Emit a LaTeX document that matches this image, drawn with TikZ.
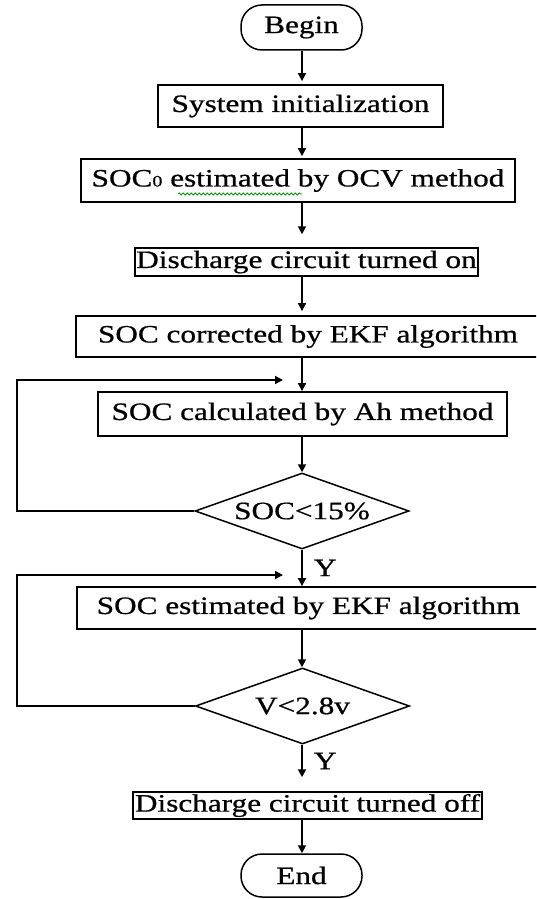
\documentclass[tikz,border=0pt]{standalone}
\usepackage{fontspec}
\setmainfont[FakeStretch=1.25,FakeBold=0.7]{Liberation Serif}
\usetikzlibrary{shapes.geometric,arrows.meta,decorations.pathmorphing}
\begin{document}
\begin{tikzpicture}[x=1pt,y=-1pt,
  font=\fontsize{25}{28}\selectfont,
  every node/.style={inner sep=0pt},
  procbox/.style={draw, line width=1.8pt, rectangle},
  term/.style={draw, line width=1.5pt, rounded corners=21pt, minimum width=121pt},
  decision/.style={draw, line width=1.5pt, diamond, aspect=2.8,
    minimum width=214pt, minimum height=76pt},
  arr/.style={line width=1.8pt, -{Triangle[length=8pt,width=8pt]}},
  ylabel/.style={anchor=west, xshift=11pt}]
% page area
\clip (0,0) rectangle (536,899);
\fill[white] (0,0) rectangle (536,899);

% main axis and left return line
\coordinate (ax) at (302,0);
\coordinate (lx) at (17,0);
\coordinate (in1) at (283,380);
\coordinate (in2) at (283,575);

% steps
\node[term, minimum height=45pt] (begin) at (301.5,27.5) {Begin};
\node[procbox, minimum width=285pt, minimum height=42pt] (sys) at (300.5,106) {System initialization};
\node[procbox, minimum width=434pt, minimum height=43pt] (soc0) at (298,180.5)
  {SOC{\fontsize{16}{16}\selectfont 0} estimated by OCV method};
\node[procbox, line width=1.5pt, minimum width=343pt, minimum height=28pt] (on) at (306.5,262)
  {Discharge circuit turned on};
\node[procbox, minimum width=464pt, minimum height=41pt] (corr) at (308,336.5)
  {SOC corrected by EKF algorithm};
\node[procbox, minimum width=409pt, minimum height=44pt] (calc) at (302.5,414)
  {SOC calculated by Ah method};
\node[decision] (d1) at (302,511) {SOC<15\%};
\node[procbox, minimum width=463pt, minimum height=42pt] (ekf) at (308.5,608)
  {SOC estimated by EKF algorithm};
\node[decision] (d2) at (302.5,706) {V<2.8v};
\node[procbox, line width=1.5pt, minimum width=349pt, minimum height=27pt] (off) at (307.5,805.5)
  {Discharge circuit turned off};
\node[term, minimum height=43pt] (end) at (301.5,875.5) {End};

% spell-check squiggle under "estimated"
\draw[green!60!black, line width=0.9pt, decorate,
  decoration={snake, amplitude=1pt, segment length=4pt}] (178,194) -- (302,194);

% flow
\draw[arr] (begin.south -| ax) -- ([yshift=3pt]sys.north -| ax);
\draw[arr] (sys.south -| ax) -- ([yshift=2pt]soc0.north -| ax);
\draw[arr] (soc0.south -| ax) -- ([yshift=13pt]on.north -| ax);
\draw[arr] (on.south -| ax) -- ([yshift=4pt]corr.north -| ax);
\draw[arr] (corr.south -| ax) -- (calc.north -| ax);
\draw[arr] (calc.south -| ax) -- (d1.north -| ax);
\draw[arr] (d1.south -| ax) -- node[ylabel] {Y} (ekf.north -| ax);
\draw[arr] (ekf.south -| ax) -- (d2.north -| ax);
\draw[arr] (d2.south -| ax) -- node[ylabel] {Y} ([yshift=14pt]off.north -| ax);
\draw[arr] (off.south -| ax) -- (end.north -| ax);

% return loops
\draw[arr] (d1.west) -- (d1.west -| lx) -- (lx |- in1) -- (in1);
\draw[arr] (d2.west) -- (d2.west -| lx) -- (lx |- in2) -- (in2);
\end{tikzpicture}
\end{document}
